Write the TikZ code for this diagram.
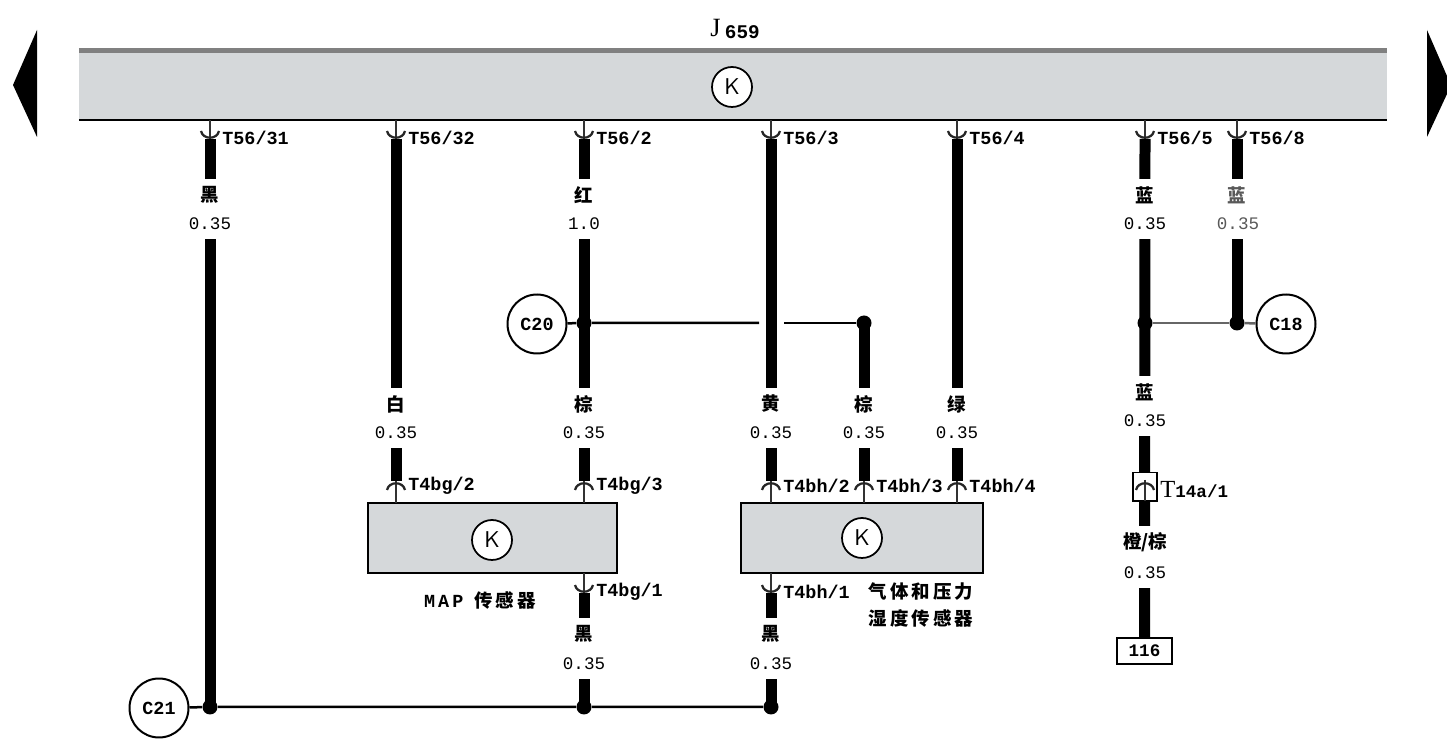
\documentclass[tikz,border=0pt]{standalone}
\usepackage{fontspec}
\setmainfont{Liberation Serif}
\newfontfamily\wirefont{Liberation Mono}
\newfontfamily\cjk{Noto Sans CJK SC}
\usetikzlibrary{calc}

\definecolor{boxgray}{HTML}{D5D8DA}

\tikzset{
    wire/.style={line width=0.22cm, black},
    thinwire/.style={line width=0.05cm, black},
    stub/.style={line width=0.04cm, black!80},
    fork/.style={line width=0.045cm, black!85},
    dot/.style={circle, fill=black, inner sep=0pt, minimum size=0.3cm},
    ground/.style={circle, draw=black, fill=white, line width=0.04cm, inner sep=0pt, minimum size=1.18cm, font=\wirefont\bfseries\fontsize{10.5}{11}\selectfont},
    sensor/.style={draw=black, fill=boxgray, line width=0.05cm, inner sep=0pt, minimum height=1.4cm},
    ksym/.style={circle, draw=black, fill=white, line width=0.035cm, inner sep=0pt, minimum size=0.8cm, font=\sffamily\fontsize{13}{13}\selectfont},
    pinlabel/.style={anchor=west, inner sep=0pt, font=\wirefont\bfseries\fontsize{10.5}{11}\selectfont},
    colorlabel/.style={fill=white, inner sep=0pt, minimum width=0.7cm, minimum height=0.64cm, font=\cjk\bfseries\fontsize{10.5}{11}\selectfont},
    sizelabel/.style={fill=white, inner sep=0pt, minimum width=0.86cm, minimum height=0.6cm, font=\wirefont\fontsize{10}{10}\selectfont},
    caption/.style={inner sep=0pt, font=\cjk\bfseries\fontsize{10.5}{11}\selectfont},
}

\newcommand{\drawForkDown}[2]{\draw[fork] (#1-9,#2-10) .. controls (#1-7,#2-1) and (#1+7,#2-1) .. (#1+9,#2-10);}
\newcommand{\drawForkUp}[2]{\draw[fork] (#1-9,#2+10) .. controls (#1-7,#2+1) and (#1+7,#2+1) .. (#1+9,#2+10);}

\begin{document}
\begin{tikzpicture}[x=0.02cm, y=-0.02cm]
    \useasboundingbox (0,0) rectangle (1447,742);

    % Arrows at both sides
    \fill[black] (13,85) -- (37,30) -- (37,137) -- cycle;
    \fill[black] (1427,30) -- (1447,76) -- (1447,94) -- (1427,137) -- cycle;

    % Control unit
    \node[fill=boxgray, inner sep=0pt, minimum width=26.16cm, minimum height=1.44cm] (ecu) at (733,84) {};
    \draw[line width=0.1cm, black!50] ([yshift=-0.05cm]ecu.north west) -- ([yshift=-0.05cm]ecu.north east);
    \draw[line width=0.045cm, black] (ecu.south west) -- (ecu.south east);
    \node[inner sep=0pt] (ecuname) at (735,29) {\fontsize{15}{15}\selectfont J\,\raisebox{-1pt}{\wirefont\bfseries\fontsize{11}{11}\selectfont 659}};
    \node[ksym] (ecuk) at (732,87) {K};

    % Sensors
    \node[sensor, minimum width=4.98cm] (map) at (492.5,538) {};
    \node[sensor, minimum width=4.84cm] (gas) at (862,538) {};
    \node[ksym] (mapk) at (492,540) {K};
    \node[ksym] (gask) at (862,538) {K};

    % Grounds and junctions
    \node[ground] (c20) at (537,324) {C20};
    \node[ground] (c18) at (1286,324) {C18};
    \node[ground] (c21) at (159,708) {C21};
    \node[dot] (jctA) at (584,323) {};
    \node[dot] (jctB) at (864,323) {};
    \node[dot] (jctC) at (1145,323) {};
    \node[dot] (jctD) at (1237,323) {};
    \node[dot] (jctE) at (210,707) {};
    \node[dot] (jctF) at (584,707) {};
    \node[dot] (jctG) at (771,707) {};
    \coordinate (gapL) at (759,323);
    \coordinate (gapR) at (784,323);

    % Terminal
    \node[draw=black, fill=white, line width=0.045cm, inner sep=0pt, minimum width=1.1cm, minimum height=0.52cm, font=\wirefont\bfseries\fontsize{10}{10}\selectfont] (term) at (1144.5,651) {116};

    % Pins at the control unit
    \foreach \n/\x/\t in {a/210/31,b/396/32,c/584/2,d/771/3,e/957/4,f/1145/5,g/1237/8} {
        \coordinate (top\n) at (\x,139);
        \draw[stub] (ecu.south -| top\n) -- (top\n);
        \drawForkDown{\x}{141}
        \node[pinlabel] (lab\n) at (\x+12,138) {T56/\t};
    }

    % Pins at the top of the sensors
    \foreach \n/\x/\t in {b/396/T4bg\slash2,c/584/T4bg\slash3,d/771/T4bh\slash2,h/864/T4bh\slash3,e/957/T4bh\slash4} {
        \coordinate (bot\n) at (\x,481);
        \draw[stub] (bot\n) -- (\x,503);
        \drawForkUp{\x}{480}
        \node[pinlabel] (sens\n) at (\x+12,486) {\t};
    }

    % Pins under the sensors
    \foreach \n/\x/\t in {f/584/T4bg\slash1,g/771/T4bh\slash1} {
        \coordinate (low\n) at (\x,593);
        \draw[stub] (\x,573) -- (low\n);
        \drawForkDown{\x}{595}
        \node[pinlabel] (under\n) at (\x+12,592) {\t};
    }

    % Thick wires
    \draw[wire] (topa) -- (jctE.center);
    \draw[wire] (topb) -- (botb);
    \draw[wire] (topc) -- (botc);
    \draw[wire] (topd) -- (botd);
    \draw[wire] (tope) -- (bote);
    \draw[wire] (jctB.center) -- (both);
    \draw[wire] (topf) -- (term);
    \draw[wire] (topg) -- (jctD.center);
    \draw[wire] (lowf) -- (jctF.center);
    \draw[wire] (lowg) -- (jctG.center);

    % Thin wires
    \draw[thinwire] (c20) -- (jctA) -- (gapL);
    \draw[thinwire] (gapR) -- (jctB);
    \draw[thinwire, black!60] (jctC) -- (jctD);
    \draw[thinwire, black!60] (jctD) -- (c18);
    \draw[thinwire] (c21) -- (jctE) -- (jctF) -- (jctG);

    % Connector T14a
    \node[draw=black, fill=white, line width=0.04cm, inner sep=0pt, minimum width=0.48cm, minimum height=0.58cm] (conn) at (1145,487) {};
    \draw[stub] (1145,480) -- (1145,501);
    \drawForkUp{1145}{480}
    \node[pinlabel] (connlab) at (1160,490) {{\rmfamily\mdseries\fontsize{14}{14}\selectfont T}{\fontsize{10}{10}\selectfont 14a/1}};

    % Wire colours
    \foreach \n/\x/\y/\t in {ca/210/195/黑,cb/584/195/红,cc/1145/195/蓝,cd/396/404/白,ce/584/404/棕,cf/771/404/黄,cg/864/404/棕,ch/957/404/绿,ci/1145/392/蓝,cj/584/634/黑,ck/771/634/黑}
        \node[colorlabel] (\n) at (\x,\y) {\t};
    \node[colorlabel, text=black!65] (cl) at (1237,195) {蓝};
    \node[colorlabel, minimum width=1.1cm] (cm) at (1145,542) {橙/棕};

    % Wire sizes
    \foreach \n/\x/\y/\t in {sa/210/224/0.35,sb/584/224/1.0,sc/1145/224/0.35,sd/396/433/0.35,se/584/433/0.35,sf/771/433/0.35,sg/864/433/0.35,sh/957/433/0.35,si/1145/421/0.35,sj/1145/573/0.35,sk/584/664/0.35,sl/771/664/0.35}
        \node[sizelabel] (\n) at (\x,\y) {\t};
    \node[sizelabel, text=black!65] (sm) at (1238,224) {0.35};

    % Sensor names
    \node[caption] (mapname) at (480,600) {\wirefont\bfseries M\,A\,P\ \cjk 传\,感\,器};
    \node[caption] (gasname) at (921,592) {气\,体\,和\,压\,力};
    \node[caption] (gasnameb) at (921,618) {湿\,度\,传\,感\,器};
\end{tikzpicture}
\end{document}
